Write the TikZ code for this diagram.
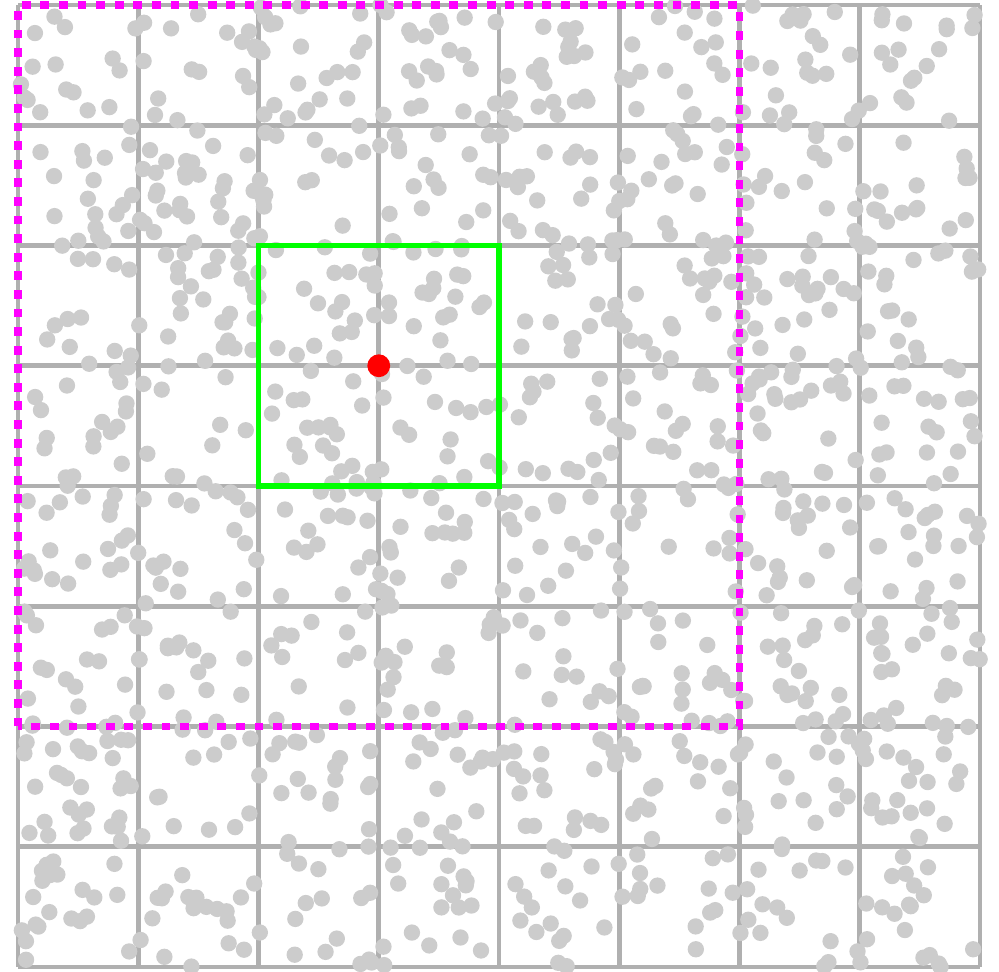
\documentclass[tikz,border=0pt]{standalone}
\usepackage{tikz}
\usetikzlibrary{calc}
\definecolor{gridGray}{RGB}{176,176,176}
\definecolor{dotGray}{RGB}{204,204,204}
\definecolor{winMagenta}{RGB}{255,0,255}
\definecolor{boxGreen}{RGB}{0,255,0}
\definecolor{qRed}{RGB}{255,0,0}
\tikzset{
    cellgrid/.style={draw=gridGray, line width=1.15pt},
    sample/.style={fill=dotGray},
    window/.style={draw=winMagenta, line width=1.7pt, dash pattern=on 2.1pt off 2.3pt},
    querybox/.style={draw=boxGreen, line width=1.4pt},
    query/.style={fill=qRed}
}
\begin{document}
\begin{tikzpicture}[x=1cm, y=1cm]
  \useasboundingbox (-0.1497,-0.0333) rectangle (8.158,8.0416);
  % Grid
  \draw[cellgrid] (0,0) grid (8,8);

  % Random points
  \pgfmathsetseed{4711}
  \foreach \i in {1,...,1250} {
    \pgfmathsetmacro{\px}{8*rnd}
    \pgfmathsetmacro{\py}{8*rnd}
    \fill[sample] (\px,\py) circle (0.068);
  }

  % Search window and query cell
  \coordinate (winSW) at (0,2);
  \coordinate (winNE) at (6,8);
  \draw[window] (winSW) rectangle (winNE);
  \coordinate (boxSW) at (2,4);
  \coordinate (boxNE) at (4,6);
  \draw[querybox] (boxSW) rectangle (boxNE);
  \coordinate (q) at (3,5);
  \fill[query] (q) circle (0.095);
\end{tikzpicture}
\end{document}
